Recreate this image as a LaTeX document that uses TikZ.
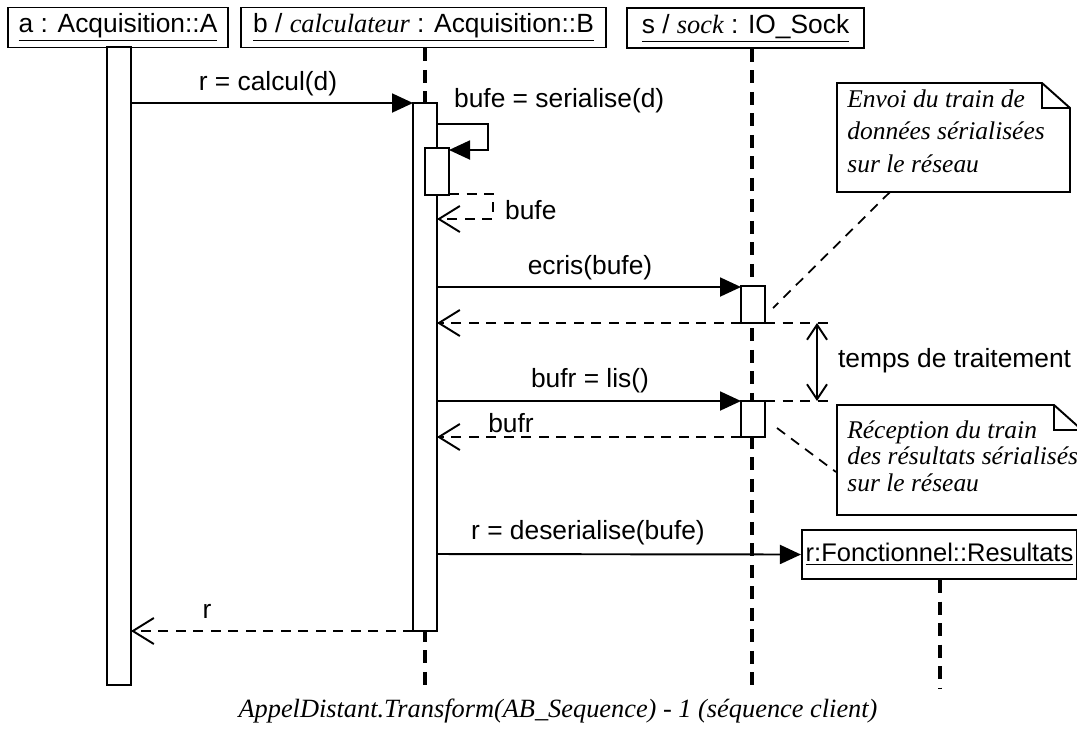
\documentclass[tikz,border=0pt]{standalone}
\usepackage{fontspec}
\setmainfont{Liberation Sans}
\newfontfamily\notefont{Liberation Serif}
\usetikzlibrary{arrows.meta,calc}

\tikzset{
  obj/.style={draw,line width=1.1pt,inner sep=2pt,minimum height=0.8cm,font=\fontsize{15}{18}\selectfont},
  act/.style={draw,fill=white,line width=1.1pt},
  life/.style={line width=1.8pt,dash pattern=on 0.26cm off 0.17cm},
  msg/.style={line width=1.1pt,-{Triangle[length=0.42cm,width=0.38cm]}},
  ret/.style={line width=1.1pt,dash pattern=on 0.2cm off 0.15cm,-{Straight Barb[length=0.42cm,width=0.52cm,line width=1.1pt]}},
  guide/.style={line width=1pt,dash pattern=on 0.2cm off 0.15cm},
  lbl/.style={font=\fontsize{15}{18}\selectfont,inner sep=1pt},
  notebox/.style={line width=1.1pt},
  notetxt/.style={font=\notefont\itshape\fontsize{14.5}{18.7}\selectfont,align=left,inner sep=0pt,anchor=north west}
}

\begin{document}
\begin{tikzpicture}[x=0.02cm,y=-0.02cm]
  \useasboundingbox (0,0) rectangle (1077,728);
  \node[obj,minimum width=4.4cm] (objA) at (118,27.5) {\underline{a : Acquisition::A}};
  \node[obj,minimum width=7.3cm] (objB) at (423.5,27.5) {\underline{b / {\notefont\itshape calculateur} : Acquisition::B}};
  \node[obj,minimum width=4.74cm] (objS) at (745.5,28) {\underline{s / {\notefont\itshape sock} : IO\_Sock}};
  \node[obj,minimum width=5.1cm,minimum height=0.98cm,line width=1.4pt,font=\fontsize{14.5}{18}\selectfont] (objR) at (939.5,554.5) {\underline{r:Fonctionnel::Resultats}};

  \coordinate (lifeB) at (425,688);
  \coordinate (lifeS) at (752,688);
  \coordinate (lifeR) at (940,688);
  \draw[life] (objB.south -| lifeB) -- (lifeB);
  \draw[life] (objS.south -| lifeS) -- (lifeS);
  \draw[life] (objR.south -| lifeR) -- (lifeR);

  \draw[act] (107,47) rectangle (131,685);
  \draw[act] (413,103) rectangle (437,631);
  \draw[act] (425,148) rectangle (449,195);
  \draw[act] (741,286) rectangle (765,323);
  \draw[act] (741,401) rectangle (765,437);

  \coordinate (a1) at (131,103);
  \coordinate (b1) at (413,103);
  \coordinate (b2) at (437,124);
  \coordinate (b3) at (449,150);
  \coordinate (b4) at (449,194);
  \coordinate (b5) at (437,219);
  \coordinate (b6) at (437,287);
  \coordinate (b7) at (437,323);
  \coordinate (b8) at (437,401);
  \coordinate (b9) at (437,437);
  \coordinate (b10) at (437,554);
  \coordinate (b11) at (413,631);
  \coordinate (a2) at (131,631);
  \coordinate (s1) at (741,287);
  \coordinate (s2) at (741,323);
  \coordinate (s3) at (741,401);
  \coordinate (s4) at (741,437);
  \coordinate (g1) at (765,323);
  \coordinate (g2) at (832,323);
  \coordinate (g3) at (765,401);
  \coordinate (g4) at (832,401);
  \coordinate (t1) at (817,323);
  \coordinate (t2) at (817,401);

  \draw[msg] (a1) -- (b1);
  \draw[msg] (b2) -- (488,124) -- (488,150) -- (b3);
  \draw[ret] (b4) -- (493,194) -- (493,219) -- (b5);
  \draw[msg] (b6) -- (s1);
  \draw[ret] (s2) -- (b7);
  \draw[msg] (b8) -- (s3);
  \draw[ret] (s4) -- (b9);
  \draw[msg] (b10) -- (objR.west);
  \draw[ret] (b11) -- (a2);
  \draw[guide] (g1) -- (g2);
  \draw[guide] (g3) -- (g4);
  \draw[line width=1.1pt,{Straight Barb[length=0.3cm,width=0.4cm,line width=1.1pt]}-{Straight Barb[length=0.3cm,width=0.4cm,line width=1.1pt]}] (t1) -- (t2);

  \node[lbl] (lcalcul) at (268,84) {r = calcul(d)};
  \node[lbl,anchor=west] (lserial) at (452,101) {bufe = serialise(d)};
  \node[lbl,anchor=west] (lbufe) at (503,210) {bufe};
  \node[lbl] (lecris) at (590,268) {ecris(bufe)};
  \node[lbl] (llis) at (590,381) {bufr = lis()};
  \node[lbl] (lbufr) at (511,423) {bufr};
  \node[lbl] (ldeser) at (588,533) {r = deserialise(bufe)};
  \node[lbl] (lr) at (207,611) {r};
  \node[lbl,anchor=west] (ltemps) at (836,361) {temps de traitement};

  \draw[notebox] (837,83) -- (1042,83) -- (1070,108) -- (1070,192) -- (837,192) -- cycle;
  \draw[notebox] (1042,83) -- (1042,108) -- (1070,108);
  \node[notetxt] (note1) at (847,89) {Envoi du train de\\données sérialisées\\sur le réseau};
  \coordinate (n1) at (890,192);
  \coordinate (n1s) at (773,308);
  \draw[guide] (n1) -- (n1s);

  \draw[notebox] (837,405) -- (1054,405) -- (1082,430) -- (1082,515) -- (837,515) -- cycle;
  \draw[notebox] (1054,405) -- (1054,430) -- (1082,430);
  \node[notetxt,font=\notefont\itshape\fontsize{14.5}{15.3}\selectfont] (note2) at (847,420) {Réception du train\\des résultats sérialisés\\sur le réseau};
  \coordinate (n2) at (836,472);
  \coordinate (n2s) at (777,428);
  \draw[guide] (n2s) -- (n2);

  \node[font=\notefont\itshape\fontsize{15}{18}\selectfont] (caption) at (558,711) {AppelDistant.Transform(AB\_Sequence) - 1 (séquence client)};
\end{tikzpicture}
\end{document}
